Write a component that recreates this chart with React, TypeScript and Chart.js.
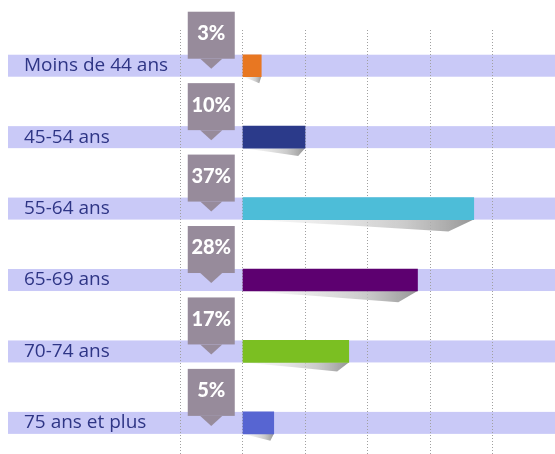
import React, { useEffect, useRef } from 'react';
import { Chart, registerables } from 'chart.js';

Chart.register(...registerables);

const categories = ['Moins de 44 ans', '45-54 ans', '55-64 ans', '65-69 ans', '70-74 ans', '75 ans et plus'];
const values = [3, 10, 37, 28, 17, 5];
const barColors = ['#e87722', '#2b3a8a', '#4dbdd8', '#5d0070', '#7bbf22', '#5765d2'];
const axisMin = -10;
const axisMax = 50;
const axisStep = 10;
const calloutValue = -5;

const BAND_COLOR = '#c9c9f7';
const BAR_H = 22;

const bandPlugin = {
  id: 'bands',
  beforeDraw(chart: any) {
    const { ctx } = chart;
    const y = chart.scales.y;
    ctx.save();
    ctx.fillStyle = BAND_COLOR;
    categories.forEach((_, i) => {
      const c = y.getPixelForValue(i);
      ctx.fillRect(8, c - BAR_H / 2, chart.width - 8, BAR_H);
    });
    ctx.restore();
  },
};

const shadowPlugin = {
  id: 'curlShadow',
  beforeDatasetsDraw(chart: any) {
    const { ctx } = chart;
    const meta = chart.getDatasetMeta(0);
    ctx.save();
    meta.data.forEach((el: any) => {
      const x0 = el.base;
      const x1 = el.x;
      const bottom = el.y + BAR_H / 2;
      const len = x1 - x0;
      const tipX = x1 - Math.max(2, len * 0.11);
      const depth = Math.min(12, 6 + len * 0.03);
      const tipY = bottom + depth;
      const g = ctx.createLinearGradient(x0, 0, x1, 0);
      g.addColorStop(0, 'rgba(230,230,230,0.2)');
      g.addColorStop(0.7, 'rgba(190,190,190,0.8)');
      g.addColorStop(1, 'rgba(150,150,150,1)');
      ctx.fillStyle = g;
      ctx.beginPath();
      ctx.moveTo(x0, bottom);
      ctx.lineTo(x1, bottom);
      ctx.lineTo(tipX, tipY);
      ctx.quadraticCurveTo(x0 + (tipX - x0) * 0.5, bottom + depth * 0.45, x0, bottom);
      ctx.closePath();
      ctx.fill();
    });
    ctx.restore();
  },
};

const calloutPlugin = {
  id: 'callouts',
  afterDatasetsDraw(chart: any) {
    const { ctx } = chart;
    const x = chart.scales.x;
    const y = chart.scales.y;
    const cx = x.getPixelForValue(calloutValue);
    const w = 47;
    ctx.save();
    values.forEach((v, i) => {
      const c = y.getPixelForValue(i);
      const top = c - 54;
      const bot = c - 7;
      ctx.fillStyle = '#978b9b';
      ctx.fillRect(cx - w / 2, top, w, bot - top);
      ctx.beginPath();
      ctx.moveTo(cx - 11, bot);
      ctx.lineTo(cx + 11, bot);
      ctx.lineTo(cx, c + 3);
      ctx.closePath();
      ctx.fill();
      ctx.fillStyle = '#ffffff';
      ctx.font = '900 20px Lato';
      ctx.textAlign = 'center';
      ctx.textBaseline = 'middle';
      ctx.fillText(`${v}%`, cx, c - 32);
    });
    ctx.restore();
  },
};

export default function App() {
  const ref = useRef<HTMLCanvasElement | null>(null);

  useEffect(() => {
    if (!ref.current) return;
    const chart = new Chart(ref.current, {
      type: 'bar',
      data: {
        labels: categories,
        datasets: [
          {
            data: values,
            backgroundColor: barColors,
            barThickness: BAR_H,
            borderWidth: 0,
          },
        ],
      },
      options: {
        indexAxis: 'y',
        animation: false,
        responsive: false,
        maintainAspectRatio: false,
        events: [],
        layout: { padding: { left: 24, top: 30, bottom: 7, right: 0 } },
        plugins: {
          legend: { display: false },
          tooltip: { enabled: false },
        },
        scales: {
          x: {
            type: 'linear',
            min: axisMin,
            max: axisMax,
            ticks: { display: false, stepSize: axisStep },
            grid: {
              color: '#a0a0a0',
              lineWidth: 1,
              drawTicks: false,
              tickLength: 0,
            },
            border: { display: false, dash: [1, 2] },
          },
          y: {
            type: 'category',
            grid: { display: false, drawTicks: false },
            border: { display: false },
            ticks: {
              crossAlign: 'far',
              padding: 0,
              color: '#2e3585',
              font: { family: 'Open Sans', size: 19 },
            },
            afterFit: (scale: any) => {
              scale.width = 156;
            },
          },
        },
      },
      plugins: [bandPlugin, shadowPlugin, calloutPlugin],
    } as any);
    return () => chart.destroy();
  }, []);

  return (
    <div style={{ position: 'absolute', left: 0, top: 0, width: 555, height: 454, overflow: 'hidden', background: '#fff' }}>
      <canvas ref={ref} width={555} height={470} style={{ display: 'block', width: 555, height: 470 }} />
    </div>
  );
}
